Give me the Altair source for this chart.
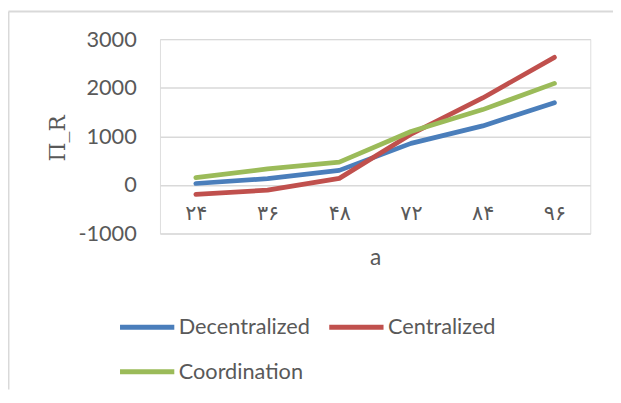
import altair as alt
import pandas as pd

categories = ["۲۴", "۳۶", "۴۸", "۷۲", "۸۴", "۹۶"]
decentralized = [30, 130, 300, 855, 1215, 1690]
centralized = [-195, -105, 135, 1045, 1790, 2625]
coordination = [150, 330, 470, 1100, 1550, 2090]
series_names = ["Decentralized", "Centralized", "Coordination"]
series_colors = ["#4a7ebb", "#c0504d", "#9bbb59"]
y_ticks = [-1000, 0, 1000, 2000, 3000]

rows = []
for name, vals in zip(series_names, [decentralized, centralized, coordination]):
    for i, (c, v) in enumerate(zip(categories, vals)):
        rows.append({"a": c, "value": v, "series": name, "order": series_names.index(name)})
df = pd.DataFrame(rows)

W, H = 436, 197
PL, PT, PR, PB = 154, 29, 23, 158
TXT = "#595959"
FONT = "Lato"

lines = alt.Chart(df).mark_line(strokeWidth=4.8, interpolate="linear", strokeCap="round",
                                strokeJoin="round").encode(
    x=alt.X("a:N", sort=categories, scale=alt.Scale(type="point", padding=0.5),
            axis=alt.Axis(title="a", orient="bottom", offset=-49.25, domain=False, ticks=False,
                          tickSize=0, grid=False, labelAngle=0, labelPadding=18,
                          labelFont="DejaVu Sans", labelFontSize=21, labelColor=TXT,
                          titleFont=FONT, titleFontSize=23, titleFontWeight="normal",
                          titleColor=TXT, titlePadding=24)),
    y=alt.Y("value:Q", scale=alt.Scale(domain=[-1000, 3000], nice=False, zero=False),
            axis=alt.Axis(title="Π_R", values=y_ticks, domain=False, ticks=False, tickSize=0,
                          labelExpr="datum.value + ''",
                          labelPadding=24, labelFont=FONT, labelFontSize=22, labelColor=TXT,
                          gridColor="#d9d9d9", gridWidth=1.5,
                          titleFont="DejaVu Serif", titleFontSize=22, titleFontWeight="normal",
                          titleColor=TXT, titleAngle=270, titleX=-104, titleY=100,
                          titleAlign="center", titleBaseline="middle")),
    color=alt.Color("series:N", sort=series_names,
                    scale=alt.Scale(domain=series_names, range=series_colors),
                    legend=alt.Legend(title=None, orient="none", legendX=-43, legendY=262,
                                      direction="horizontal", columns=2, symbolType="stroke",
                                      symbolSize=3025, symbolStrokeWidth=5, labelFont=FONT,
                                      labelFontSize=22, labelColor=TXT, labelOffset=2,
                                      columnPadding=8, rowPadding=4)),
    order=alt.Order("order:Q"),
)

frame_df = pd.DataFrame({"k": [0]})
left_border = alt.Chart(frame_df).mark_rule(color="#d9d9d9", strokeWidth=2).encode(
    x=alt.value(-PL + 0.5), y=alt.value(-PT + 1), y2=alt.value(H + PB))
top_border = alt.Chart(frame_df).mark_rule(color="#d9d9d9", strokeWidth=2).encode(
    x=alt.value(-PL + 0.5), x2=alt.value(W + PR), y=alt.value(-PT + 1))

chart = alt.layer(left_border, top_border, lines).properties(
    width=W, height=H,
    autosize=alt.AutoSizeParams(type="none"),
    padding={"left": PL, "top": PT, "right": PR, "bottom": PB},
).configure_view(stroke=None).configure(background="white")

chart.save("out.html", embed_options={"renderer": "svg", "actions": False})
